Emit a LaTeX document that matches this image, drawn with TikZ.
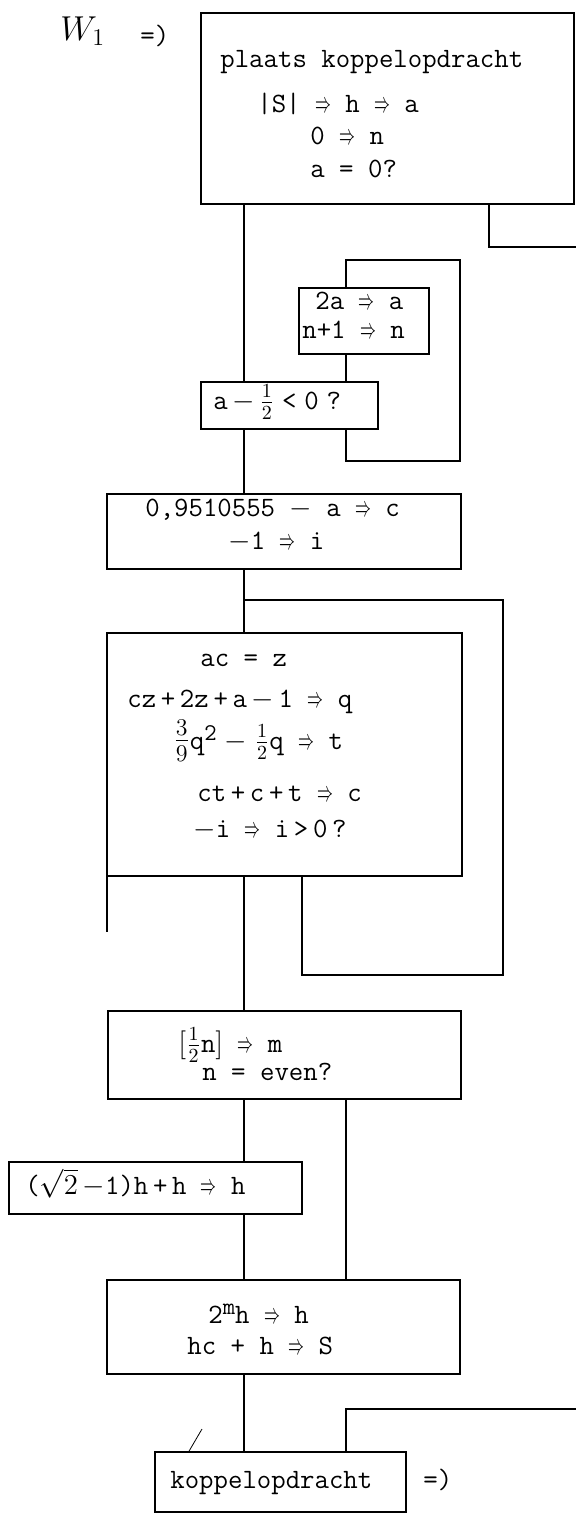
\documentclass[tikz,border=0pt]{standalone}
\usepackage{fontspec}
\usepackage{graphicx}
\usetikzlibrary{fit}

\newcommand{\ra}{\scalebox{0.55}[1]{$\Rightarrow$}}
\newcommand{\hi}[1]{\raisebox{0.7ex}{\fontsize{12}{12}\selectfont #1}}

\tikzset{
  box/.style={draw, line width=0.8pt, inner sep=0pt, fit={#1}},
  lbl/.style={font=\ttfamily\fontsize{14}{17}\selectfont, inner sep=0pt, anchor=mid west},
  flow/.style={line width=0.8pt}
}

\begin{document}
\begin{tikzpicture}[x=0.5pt,y=-0.5pt]
    \useasboundingbox (0,0) rectangle (576,1517);

    % x positions of the vertical lines
    \coordinate (main) at (244,0);
    \coordinate (side) at (346,0);
    \coordinate (back) at (302,0);
    \coordinate (quit) at (489,0);

    % boxes
    \node[box={(201,13) (574,204)}] (start) {};
    \node[box={(299,288) (429,354)}] (double) {};
    \node[box={(201,382) (378,429)}] (test) {};
    \node[box={(107,494) (461,569)}] (init) {};
    \node[box={(107,633) (462,876)}] (series) {};
    \node[box={(108,1011) (461,1099)}] (even) {};
    \node[box={(9,1162) (302,1214)}] (odd) {};
    \node[box={(107,1280) (460,1374)}] (result) {};
    \node[box={(155,1452) (406,1512)}] (exit) {};

    % texts
    \node[lbl, font=\fontsize{17}{17}\selectfont] (w) at (60,36) {$W_1$};
    \node[lbl] (win) at (140,40) {=)};

    \node[lbl] (s1) at (220,63) {plaats koppelopdracht};
    \node[lbl] (s2) at (257,108) {|S| \ra{} h \ra{} a};
    \node[lbl] (s3) at (310,140) {0 \ra{} n};
    \node[lbl] (s4) at (310,173) {a = 0?};

    \node[lbl] (d1) at (315,305) {2a \ra{} a};
    \node[lbl] (d2) at (302,334) {n+1 \ra{} n};

    \node[lbl] (t1) at (213,405) {a\,$-$\,$\frac{1}{2}$\;<\;0\;?};

    \node[lbl] (i1) at (145,512) {0,9510555 $-$ a \ra{} c};
    \node[lbl] (i2) at (228,545) {$-$1 \ra{} i};

    \node[lbl] (r1) at (200,662) {ac = z};
    \node[lbl] (r2) at (127,703) {cz\,+\,2z\,+\,a\,$-$\,1 \ra{} q};
    \node[lbl] (r3) at (173,745) {{\fontsize{17}{17}\selectfont$\frac{3}{9}$}q\hi{2}\;$-$\;$\frac{1}{2}$q \ra{} t};
    \node[lbl] (r4) at (197,797) {ct\,+\,c\,+\,t \ra{} c};
    \node[lbl] (r5) at (193,833) {$-$i \ra{} i\,>\,0\,?};

    \node[lbl] (e1) at (178,1048) {$\bigl[\frac{1}{2}$n$\bigr]$ \ra{} m};
    \node[lbl] (e2) at (202,1076) {n = even?};

    \node[lbl] (o1) at (25,1190) {($\sqrt{2}\,-$1)h\,+\,h \ra{} h};

    \node[lbl] (m1) at (208,1319) {2\hi{m}h \ra{} h};
    \node[lbl] (m2) at (187,1350) {hc + h \ra{} S};

    \node[lbl] (x1) at (170,1484) {koppelopdracht};
    \node[lbl] (x2) at (423,1484) {=)};

    % main line
    \draw[flow] (start.south -| main) -- (test.north -| main);
    \draw[flow] (test.south -| main) -- (init.north -| main);
    \draw[flow] (init.south -| main) -- (series.north -| main);
    \draw[flow] (series.south -| main) -- (even.north -| main);
    \draw[flow] (even.south -| main) -- (odd.north -| main);
    \draw[flow] (odd.south -| main) -- (result.north -| main);
    \draw[flow] (result.south -| main) -- (exit.north -| main);

    % side branches and loops
    \coordinate (out1) at (576,247);
    \draw[flow] (start.south -| quit) |- (out1);

    \coordinate (loopa) at (460,260);
    \coordinate (loopb) at (460,461);
    \draw[flow] (double.north -| side) |- (loopa) -- (loopb) -| (test.south -| side);
    \draw[flow] (double.south -| side) -- (test.north -| side);

    \coordinate (loopc) at (503,975);
    \coordinate (loopd) at (503,600);
    \draw[flow] (series.south -| back) |- (loopc) -- (loopd) -- (loopd -| main);

    \coordinate (stub) at (107,932);
    \draw[flow] (series.south -| stub) -- (stub);

    \draw[flow] (even.south -| side) -- (result.north -| side);

    \coordinate (out2) at (576,1409);
    \draw[flow] (exit.north -| side) |- (out2);

    \coordinate (nick) at (202,1429);
    \draw[thin] (exit.north -| 189,0) -- (nick);
\end{tikzpicture}
\end{document}
